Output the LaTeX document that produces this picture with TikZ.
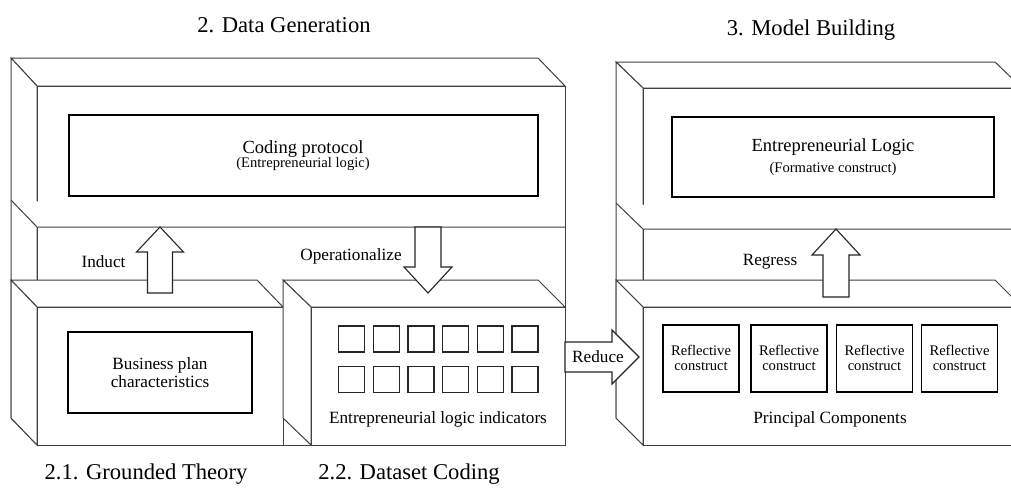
\documentclass[tikz,border=0pt]{standalone}
\usepackage{fontspec}
\setmainfont{Liberation Serif}
\usetikzlibrary{positioning,calc}

\begin{document}
\begin{tikzpicture}[x=1pt,y=-1pt,
  box/.style={draw=black!75, line width=1pt, fill=white},
  innerbox/.style={rectangle, draw=black, line width=1.4pt, fill=white, inner sep=0pt},
  smallbox/.style={rectangle, draw=black!85, line width=1.2pt, inner sep=0pt, minimum width=26pt, minimum height=26pt},
  blockarrow/.style={draw=black!85, line width=1.1pt, fill=white, line join=miter},
  txttitle/.style={anchor=base, inner sep=0pt, font=\fontsize{22.6}{27}\selectfont},
  txtmain/.style={anchor=base, inner sep=0pt, font=\fontsize{17.2}{20}\selectfont},
  txtbig/.style={anchor=base, inner sep=0pt, font=\fontsize{18.5}{22}\selectfont},
  txtsmall/.style={anchor=base, inner sep=0pt, font=\fontsize{14.6}{17}\selectfont}]

\useasboundingbox (0,0) rectangle (1011,491);
\clip (0,0) rectangle (1011,491);

% Data Generation

\draw[box] (11,58) -- (538,58) -- (565,86) -- (37,86) -- cycle;
\draw[box] (11,58) -- (37,86) -- (37,445) -- (11,418) -- cycle;
\node[box, rectangle, inner sep=0pt, minimum width=528pt, minimum height=359pt] (DataFront) at (301,265.5) {};
\draw[box] (11,200) -- (37,227) -- (565,227);

\node[innerbox, minimum width=469pt, minimum height=81pt] (CodingProtocol) at (303.5,155.5) {};
\node[txtbig]   at (303,153) {Coding protocol};
\node[txtsmall] at (303,167) {(Entrepreneurial logic)};

% Grounded Theory

\draw[box] (11,280) -- (257,280) -- (283,307) -- (37,307) -- cycle;
\draw[box] (11,280) -- (37,307) -- (37,445) -- (11,418) -- cycle;
\node[box, rectangle, inner sep=0pt, minimum width=246pt, minimum height=138pt] (GroundedFront) at (160,376) {};

\node[innerbox, minimum width=184pt, minimum height=81pt] (BusinessPlan) at (160,372.5) {};
\node[txtmain] at (160,369.5) {Business plan};
\node[txtmain] at (160,387)   {characteristics};

% Dataset Coding

\draw[box] (283,280) -- (538,280) -- (565,307) -- (311,307) -- cycle;
\draw[box] (283,280) -- (311,307) -- (311,445) -- (283,418) -- cycle;
\node[box, rectangle, inner sep=0pt, minimum width=254pt, minimum height=138pt] (DatasetFront) at (438,376) {};

\foreach \i in {0,...,5} {
  \node[smallbox] (IndicatorA\i) at (351.5+34.7*\i,339)   {};
  \node[smallbox] (IndicatorB\i) at (351.5+34.7*\i,379.5) {};
}
\node[txtmain] at (438,423) {Entrepreneurial logic indicators};

% Model Building

\draw[box] (616,62) -- (995,62) -- (1022,88) -- (643,88) -- cycle;
\draw[box] (616,62) -- (643,88) -- (643,445) -- (616,418) -- cycle;
\node[box, rectangle, inner sep=0pt, minimum width=379pt, minimum height=357pt] (ModelFront) at (832.5,266.5) {};
\draw[box] (616,203) -- (643,229) -- (1022,229);

\node[innerbox, minimum width=322pt, minimum height=80pt] (LogicNode) at (833,157) {};
\node[txtbig]   at (833,151) {Entrepreneurial Logic};
\node[txtsmall] at (833,172) {(Formative construct)};

% Principal Components

\draw[box] (616,280) -- (995,280) -- (1022,307) -- (643,307) -- cycle;
\draw[box] (616,280) -- (643,307) -- (643,445) -- (616,418) -- cycle;
\node[box, rectangle, inner sep=0pt, minimum width=379pt, minimum height=138pt] (PrincipalFront) at (832.5,376) {};

\foreach \x [count=\n] in {701,789,874.5,959.5} {
  \node[innerbox, minimum width=76pt, minimum height=67pt] (ReflectNode\n) at (\x,358.5) {};
  \node[txtsmall] at (\x,355) {Reflective};
  \node[txtsmall] at (\x,370) {construct};
}
\node[txtmain] at (830,423) {Principal Components};

% Arrows...

\coordinate (inductStart) at (160,293);
\coordinate (inductEnd)   at (160,227);
\draw[blockarrow] (inductStart) ++(-12.5,0) -- ++(0,-41) -- ++(-11,0) -- (inductEnd) -- ++(23.5,25) -- ++(-11,0) -- ++(0,41) -- cycle;
\node[txtmain] at (103.5,267) {Induct};

\coordinate (operStart) at (428,227);
\coordinate (operEnd)   at (428,293);
\draw[blockarrow] (operStart) ++(-13,0) -- ++(0,40) -- ++(-11,0) -- (operEnd) -- ++(24,-26) -- ++(-11,0) -- ++(0,-40) -- cycle;
\node[txtmain] at (351,260) {Operationalize};

\coordinate (reduceStart) at (565,357);
\coordinate (reduceEnd)   at (639,357);
\draw[blockarrow] (reduceStart) ++(0,-15) -- ++(47,0) -- ++(0,-12) -- (reduceEnd) -- ++(-27,27) -- ++(0,-12) -- ++(-47,0) -- cycle;
\node[txtmain] at (598,362) {Reduce};

\coordinate (regressStart) at (836,297);
\coordinate (regressEnd)   at (836,229);
\draw[blockarrow] (regressStart) ++(-13,0) -- ++(0,-42) -- ++(-11,0) -- (regressEnd) -- ++(24,26) -- ++(-11,0) -- ++(0,42) -- cycle;
\node[txtmain] at (770,265) {Regress};

% Titles

\node[txttitle] at (284,32)  {2. Data Generation};
\node[txttitle] at (811,35)  {3. Model Building};
\node[txttitle] at (146,479) {2.1. Grounded Theory};
\node[txttitle] at (409,479) {2.2. Dataset Coding};

\end{tikzpicture}
\end{document}
